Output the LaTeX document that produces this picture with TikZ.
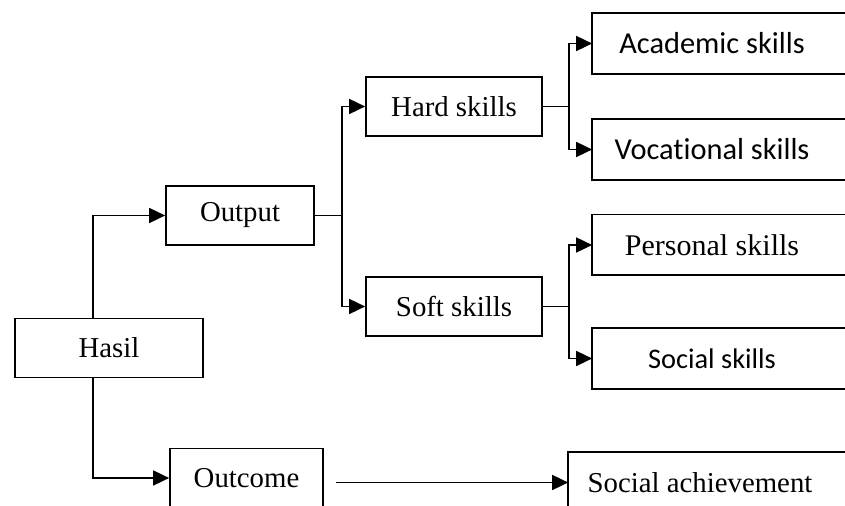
\documentclass[tikz,border=0pt]{standalone}
\usepackage{fontspec}
\setmainfont{Liberation Serif}
\newfontfamily\calibri[Ligatures=NoCommon]{Carlito}
\usetikzlibrary{arrows.meta}

\tikzset{x=0.5pt, y=-0.5pt}
\tikzset{
  box/.style={draw, line width=0.85pt, inner sep=0pt, minimum height=29.5pt,
    font=\fontsize{14.4}{17}\selectfont},
  openbox/.style={box, draw=none, minimum width=119pt,
    append after command={\pgfextra{\draw[line width=0.85pt]
      ([xshift=30pt]\tikzlastnode.north east) -- (\tikzlastnode.north west)
      -- (\tikzlastnode.south west) -- ([xshift=30pt]\tikzlastnode.south east);}}},
  sans/.style={font=\calibri\fontsize{#1}{18}\selectfont},
  arr/.style={line width=0.85pt, -{Triangle[length=8pt,width=7.5pt]}}
}

\begin{document}
\begin{tikzpicture}
\useasboundingbox (0,0) rectangle (845,506);
% first column
\node[box, minimum width=94pt] (hasil) at (109,348) {Hasil};
% second column
\node[box, minimum width=74pt] (output) at (240,215.5) {Output};
\node[box, minimum width=76.5pt] (outcome) at (246.5,478) {Outcome};
% third column
\node[box, minimum width=88pt] (hard) at (454,106.5) {Hard skills};
\node[box, minimum width=88pt] (soft) at (454,306.5) {Soft skills};
% last column, cut on the right
\node[openbox, sans=15.2] (academic) at (712,43.5) {Academic skills};
\node[openbox, sans=15.2] (vocational) at (712,149.5) {Vocational skills};
\node[openbox, font=\fontsize{15}{18}\selectfont] (personal) at (712,245) {Personal skills};
\node[openbox, sans=14.2] (social) at (712,358.5) {Social skills};
\node[openbox, minimum width=131pt] (achieve) at (700,482.5) {Social achievement};

\draw[arr] ([xshift=-8pt]hasil.north) |- (output);
\draw[arr] ([xshift=-8pt]hasil.south) |- (outcome);
\draw[line width=0.85pt] (output.east) -- ++(27,0) coordinate (forkA);
\draw[arr] (forkA) |- (hard);
\draw[arr] (forkA) |- (soft);
\draw[line width=0.85pt] (hard.east) -- ++(26,0) coordinate (forkB);
\draw[arr] (forkB) |- (academic);
\draw[arr] (forkB) |- (vocational);
\draw[line width=0.85pt] (soft.east) -- ++(26,0) coordinate (forkC);
\draw[arr] (forkC) |- (personal);
\draw[arr] (forkC) |- (social);
\draw[arr] ([xshift=6pt]outcome.east |- achieve.west) -- (achieve.west);
\end{tikzpicture}
\end{document}
